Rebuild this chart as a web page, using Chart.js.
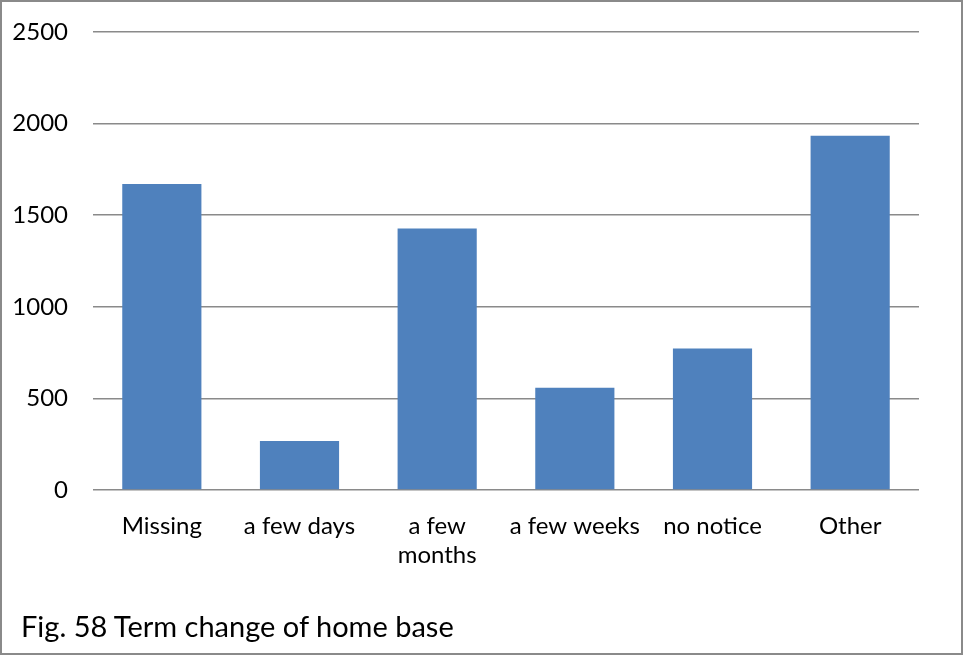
<!DOCTYPE html>
<html>
<head>
<meta charset="utf-8">
<script src="https://cdn.jsdelivr.net/npm/chart.js@4/dist/chart.umd.min.js"></script>
<style>
  html, body { margin: 0; padding: 0; background: #fff; }
  #wrap { position: absolute; left: 0; top: 0; width: 963px; height: 655px; }
  #c { position: absolute; left: 0; top: 0; }
  #frame { position: absolute; left: 0; top: 0; width: 963px; height: 655px; box-sizing: border-box; border: 2px solid #8a8a8a; pointer-events: none; }
  #caption { position: absolute; left: 21px; top: 611px; font-family: Lato, "Open Sans", sans-serif; font-size: 29px; line-height: 1; color: #000; white-space: nowrap; }
</style>
</head>
<body>
<div id="wrap">
  <canvas id="c" width="963" height="655"></canvas>
  <div id="frame"></div>
  <div id="caption">Fig. 58 Term change of home base</div>
</div>
<script>
const categories = ["Missing", "a few days", ["a few", "months"], "a few weeks", "no notice", "Other"];
const counts = [1670, 267, 1428, 558, 773, 1934];
const yTicks = [0, 500, 1000, 1500, 2000, 2500];

const FONT = "Lato, 'Open Sans', sans-serif";

new Chart(document.getElementById('c'), {
  type: 'bar',
  data: {
    labels: categories,
    datasets: [{
      data: counts,
      backgroundColor: '#4F81BD',
      borderWidth: 0,
      barPercentage: 0.575,
      categoryPercentage: 1.0
    }]
  },
  options: {
    responsive: false,
    animation: false,
    layout: { padding: { left: 0, right: 44, top: 32, bottom: 0 } },
    plugins: { legend: { display: false }, tooltip: { enabled: false }, title: { display: false } },
    scales: {
      x: {
        grid: { display: false, drawTicks: false },
        border: { display: false },
        ticks: { color: '#000', font: { family: FONT, size: 24 }, padding: 22, maxRotation: 0, autoSkip: false },
        afterFit: (s) => { s.height = 165; s.paddingLeft = 0; s.paddingRight = 0; }
      },
      y: {
        min: 0, max: 2500,
        afterBuildTicks: (s) => { s.ticks = yTicks.map(v => ({ value: v })); },
        grid: { color: '#8a8a8a', lineWidth: 1.5, drawTicks: false },
        border: { display: false },
        ticks: { color: '#000', font: { family: FONT, size: 24 }, padding: 25, callback: (v) => String(v) },
        afterFit: (s) => { s.width = 93; s.paddingTop = 0; s.paddingBottom = 0; }
      }
    }
  }
});
</script>
</body>
</html>
